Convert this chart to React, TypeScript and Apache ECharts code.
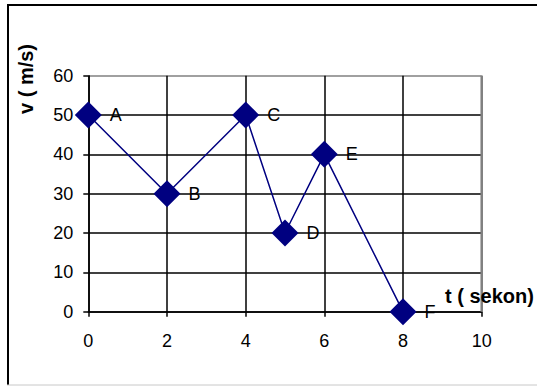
import React, { useEffect, useRef } from "react";
import * as echarts from "echarts";

const times = [0, 2, 4, 5, 6, 8];
const speeds = [50, 30, 50, 20, 40, 0];
const pointNames = ["A", "B", "C", "D", "E", "F"];
const yAxisTitle = "v ( m/s)";
const xAxisTitle = "t ( sekon)";

const FONT = "'Liberation Sans', Arial, sans-serif";

export default function App() {
  const ref = useRef<HTMLDivElement>(null);
  useEffect(() => {
    if (!ref.current) return;
    const chart = echarts.init(ref.current, null, { renderer: "svg" });
    const data = times.map((t, i) => ({ value: [t, speeds[i]], name: pointNames[i] }));
    chart.setOption({
      animation: false,
      backgroundColor: "#ffffff",
      textStyle: { fontFamily: FONT },
      grid: { left: 88.3, top: 75.7, right: 55.3, bottom: 74.3 },
      xAxis: {
        type: "value",
        min: 0,
        max: 10,
        interval: 2,
        axisLine: { show: true, lineStyle: { color: "#000", width: 1.5 } },
        axisTick: { show: true, length: 5, lineStyle: { color: "#000", width: 1.5 } },
        axisLabel: { color: "#000", fontSize: 18, margin: 20, fontFamily: FONT },
        splitLine: {
          show: true,
          lineStyle: { color: ["#000", "#000", "#000", "#000", "#000", "#808080"], width: 1.5 },
        },
      },
      yAxis: {
        type: "value",
        min: 0,
        max: 60,
        interval: 10,
        axisLine: { show: true, lineStyle: { color: "#000", width: 1.5 } },
        axisTick: { show: true, length: 5, lineStyle: { color: "#000", width: 1.5 } },
        axisLabel: { color: "#000", fontSize: 18, margin: 15, fontFamily: FONT },
        splitLine: {
          show: true,
          lineStyle: { color: ["#000", "#000", "#000", "#000", "#000", "#000", "#808080"], width: 1.5 },
        },
      },
      graphic: [
        { type: "line", shape: { x1: 7, y1: 5, x2: 537, y2: 5 }, style: { stroke: "#000", lineWidth: 2 } },
        { type: "line", shape: { x1: 8, y1: 4, x2: 8, y2: 385 }, style: { stroke: "#000", lineWidth: 2 } },
        { type: "line", shape: { x1: 7, y1: 385, x2: 537, y2: 385 }, style: { stroke: "#c8c8c8", lineWidth: 1 } },
        { type: "line", shape: { x1: 481.7, y1: 75.7, x2: 481.7, y2: 311.7 }, style: { stroke: "#808080", lineWidth: 2.5 }, z: 1 },
        {
          type: "text",
          x: 26,
          y: 79,
          rotation: Math.PI / 2,
          style: { text: yAxisTitle, fontSize: 20, fontWeight: "bold", fill: "#000", align: "center", verticalAlign: "middle", fontFamily: FONT },
        },
        {
          type: "text",
          x: 445,
          y: 296,
          style: { text: xAxisTitle, fontSize: 20, fontWeight: "bold", fill: "#000", align: "left", verticalAlign: "middle", fontFamily: FONT },
          z: 10,
        },
      ],
      series: [
        {
          type: "line",
          data,
          symbol: "diamond",
          symbolSize: 27,
          itemStyle: { color: "#000080" },
          lineStyle: { color: "#000080", width: 1.5 },
          label: {
            show: true,
            position: "right",
            distance: 8,
            formatter: (p: any) => p.name,
            color: "#000",
            fontSize: 18,
            fontFamily: FONT,
          },
          z: 5,
        },
      ],
    });
    return () => chart.dispose();
  }, []);
  return <div ref={ref} style={{ position: "absolute", left: 0, top: 0, width: 537, height: 386 }} />;
}
